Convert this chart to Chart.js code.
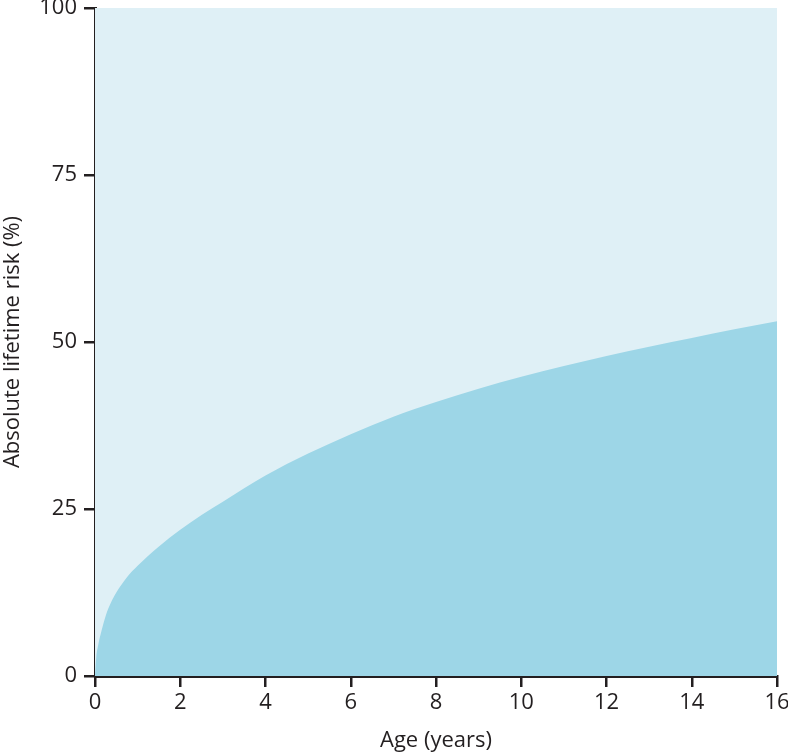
<!DOCTYPE html>
<html>
<head>
<meta charset="utf-8">
<script src="https://cdn.jsdelivr.net/npm/chart.js@4/dist/chart.umd.min.js"></script>
<style>
  html, body { margin: 0; padding: 0; background: #ffffff; }
  #wrap { width: 788px; height: 754px; position: relative; }
</style>
</head>
<body>
<div id="wrap"><canvas id="c" width="788" height="754"></canvas></div>
<script>
const ages = [0, 0.03, 0.08, 0.15, 0.25, 0.375, 0.5, 0.75, 1, 1.5, 2, 2.5, 3, 4, 5, 6, 7, 8, 9, 10, 11, 12, 13, 14, 15, 16];
const risk = [0, 2.8, 4.8, 6.7, 9.0, 11.0, 12.5, 14.8, 16.5, 19.4, 21.9, 24.1, 26.1, 30.0, 33.3, 36.2, 38.8, 41.0, 43.0, 44.8, 46.4, 47.9, 49.3, 50.6, 51.9, 53.1];
const yTicks = [0, 25, 50, 75, 100];
const xTicks = [0, 2, 4, 6, 8, 10, 12, 14, 16];
const xTitle = 'Age (years)';
const yTitle = 'Absolute lifetime risk (%)';

const points = ages.map((a, i) => ({ x: a, y: risk[i] }));

const areaBg = {
  id: 'areaBg',
  beforeDatasetsDraw(chart) {
    const { ctx, chartArea: a } = chart;
    ctx.save();
    ctx.fillStyle = '#dff0f6';
    ctx.fillRect(a.left, a.top, a.right - a.left, a.bottom - a.top);
    ctx.restore();
  }
};

const fontFamily = '"Open Sans", "Noto Sans", sans-serif';
const ink = '#231f20';

new Chart(document.getElementById('c'), {
  type: 'line',
  data: {
    datasets: [{
      data: points,
      borderWidth: 0,
      borderColor: 'rgba(0,0,0,0)',
      backgroundColor: '#9dd6e7',
      fill: 'origin',
      pointRadius: 0,
      cubicInterpolationMode: 'monotone'
    }]
  },
  options: {
    responsive: false,
    animation: false,
    layout: { padding: 0 },
    plugins: { legend: { display: false }, tooltip: { enabled: false } },
    scales: {
      x: {
        type: 'linear',
        min: 0, max: 16,
        afterBuildTicks(scale) { scale.ticks = xTicks.map(v => ({ value: v })); },
        afterFit(scale) { scale.height = 78; scale.paddingRight = 11; scale.paddingLeft = 0; },
        grid: { drawOnChartArea: false, drawTicks: true, tickLength: 11, color: ink, lineWidth: 2.5 },
        border: { display: true, color: ink, width: 3 },
        ticks: { color: ink, font: { family: fontFamily, size: 22 }, padding: 3, maxRotation: 0 },
        title: { display: true, text: xTitle, color: ink, font: { family: fontFamily, size: 22 }, padding: { top: 8, bottom: 0 } }
      },
      y: {
        type: 'linear',
        min: 0, max: 100,
        afterBuildTicks(scale) { scale.ticks = yTicks.map(v => ({ value: v })); },
        afterFit(scale) { scale.width = 95; scale.paddingTop = 8; scale.paddingBottom = 0; },
        grid: { drawOnChartArea: false, drawTicks: true, tickLength: 11, color: ink, lineWidth: 2.5 },
        border: { display: true, color: ink, width: 3 },
        ticks: { color: ink, font: { family: fontFamily, size: 22 }, padding: 7 },
        title: { display: true, text: yTitle, color: ink, font: { family: fontFamily, size: 22 }, padding: { top: 0, bottom: 2 } }
      }
    }
  },
  plugins: [areaBg]
});
</script>
</body>
</html>
